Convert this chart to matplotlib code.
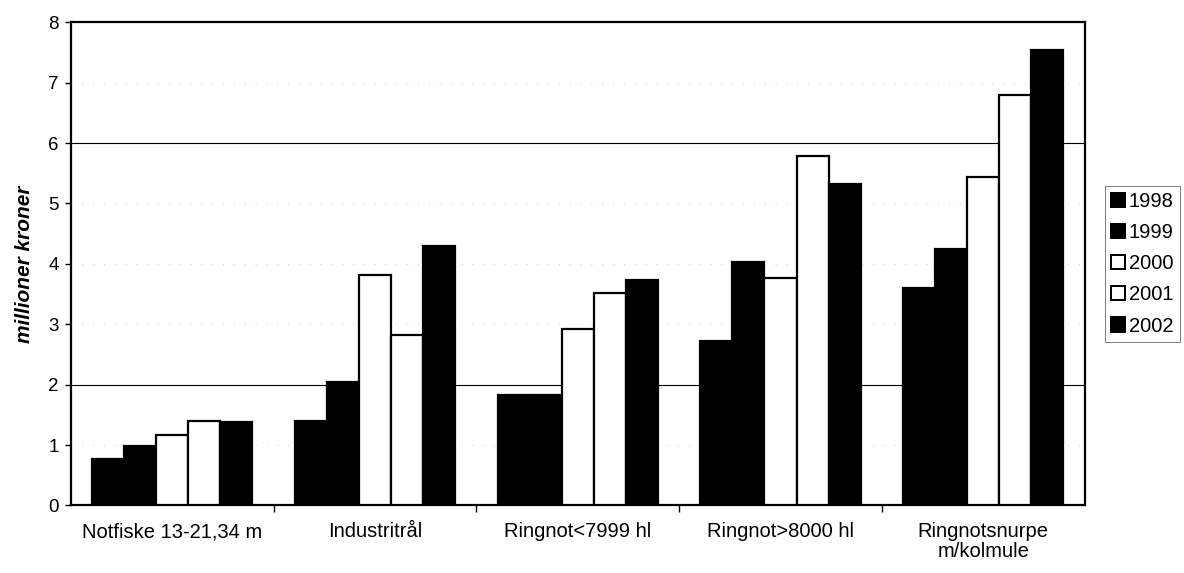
import numpy as np
import matplotlib.pyplot as plt
from matplotlib.patches import Patch

plt.rcParams['font.family'] = ['Liberation Sans', 'DejaVu Sans']

categories = ['Notfiske 13-21,34 m', 'Industritrål', 'Ringnot<7999 hl',
              'Ringnot>8000 hl', 'Ringnotsnurpe\nm/kolmule']
years = ['1998', '1999', '2000', '2001', '2002']
v1998 = [0.76, 1.40, 1.82, 2.72, 3.60]
v1999 = [0.98, 2.04, 1.82, 4.03, 4.25]
v2000 = [1.17, 3.82, 2.92, 3.76, 5.44]
v2001 = [1.39, 2.82, 3.51, 5.79, 6.79]
v2002 = [1.38, 4.29, 3.73, 5.32, 7.55]
series = [v1998, v1999, v2000, v2001, v2002]
fills = ['black', 'black', 'white', 'white', 'black']

fig = plt.figure(figsize=(11.84, 5.73), dpi=100)
ax = fig.add_axes([0.060, 0.118, 0.856, 0.843])

x = np.arange(len(categories))
w = 0.158
for i, vals in enumerate(series):
    ax.bar(x + (i - 2) * w, vals, w, color=fills[i], edgecolor='black',
           linewidth=1.6, zorder=3)

# grid lines
for y in [2, 6]:
    ax.axhline(y, color='black', lw=0.8, zorder=1)
for y in [1, 3, 4, 5, 7]:
    ax.axhline(y, color='#bbbbbb', lw=0.6, ls=(0, (1, 12)), zorder=1)

ax.set_xlim(-0.5, len(categories) - 0.5)
ax.set_ylim(0, 8)
ax.set_yticks(range(0, 9))
ax.tick_params(axis='y', labelsize=13.5, direction='out', length=4, width=1, pad=5)
ax.set_xticks(x)
ax.set_xticklabels(categories, fontsize=14.5, linespacing=1.05)
ax.set_xticks(np.arange(0.5, len(categories) - 1, 1), minor=True)
ax.tick_params(axis='x', which='major', length=0, pad=12)
ax.tick_params(axis='x', which='minor', length=5, width=1, direction='out')
for s in ax.spines.values():
    s.set_linewidth(1.6)

ax.set_ylabel('millioner kroner', fontsize=15, fontweight='bold',
              fontstyle='italic', labelpad=10)

handles = [Patch(facecolor=fills[i], edgecolor='black', linewidth=1.4,
                 label=years[i]) for i in range(5)]
leg = ax.legend(handles=handles, loc='center left', bbox_to_anchor=(1.02, 0.5),
                fontsize=14.5, frameon=True, fancybox=False, borderpad=0.3,
                handlelength=0.7, handleheight=0.7, handletextpad=0.2,
                labelspacing=0.6, borderaxespad=0)
leg.get_frame().set_edgecolor('#444444')
leg.get_frame().set_linewidth(0.6)

fig.savefig('out.png', dpi=100, facecolor='white')
